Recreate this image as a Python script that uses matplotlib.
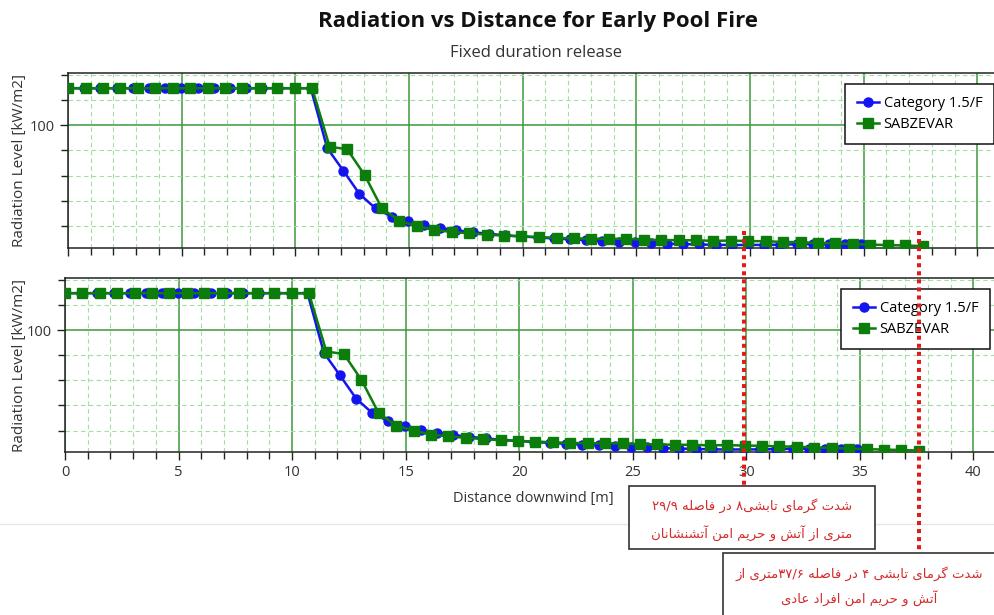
import re
import matplotlib
matplotlib.use("Agg")
import matplotlib.pyplot as plt
from matplotlib import font_manager, transforms
from matplotlib.lines import Line2D
from matplotlib.patches import Rectangle
from matplotlib.ticker import MultipleLocator

# --- data ---
category_x = [0.00, 0.71, 1.42, 2.14, 2.85, 3.56, 4.27, 4.99, 5.70, 6.41,
              7.12, 7.83, 8.55, 9.26, 9.97, 10.68, 11.40, 12.11, 12.82, 13.53,
              14.24, 14.96, 15.67, 16.38, 17.09, 17.81, 18.52, 19.23, 19.94, 20.66,
              21.37, 22.08, 22.79, 23.50, 24.22, 24.93, 25.64, 26.35, 27.06, 27.78,
              28.49, 29.20, 29.91, 30.62, 31.33, 32.05, 32.76, 33.47, 34.18, 34.90]
category_y = [129.5, 129.5, 129.5, 129.5, 129.5, 129.5, 129.5, 129.5, 129.5, 129.5,
              129.5, 129.5, 129.5, 129.5, 129.5, 129.5, 82.0, 64.0, 45.5, 34.0,
              27.5, 24.0, 20.6, 18.4, 16.5, 15.0, 13.8, 12.6, 11.7, 10.9,
              10.1, 9.4, 8.8, 8.2, 7.6, 7.0, 6.5, 6.0, 5.6, 5.3,
              5.0, 4.9, 4.9, 5.0, 5.2, 5.4, 5.6, 5.6, 5.5, 5.3]

sabzevar_x = [0.00, 0.77, 1.53, 2.30, 3.07, 3.84, 4.60, 5.37, 6.14, 6.91,
              7.67, 8.44, 9.21, 9.98, 10.74, 11.51, 12.28, 13.05, 13.81, 14.58,
              15.35, 16.11, 16.88, 17.65, 18.42, 19.18, 19.95, 20.72, 21.49, 22.25,
              23.02, 23.79, 24.56, 25.32, 26.09, 26.86, 27.63, 28.39, 29.16, 29.93,
              30.69, 31.46, 32.23, 33.00, 33.76, 34.53, 35.30, 36.07, 36.83, 37.60]
sabzevar_y = [129.5, 129.5, 129.5, 129.5, 129.5, 129.5, 129.5, 129.5, 129.5, 129.5,
              129.5, 129.5, 129.5, 129.5, 129.5, 83.0, 81.0, 60.5, 34.0, 24.0,
              20.0, 16.8, 15.3, 14.2, 13.2, 12.3, 11.8, 11.2, 10.6, 10.1,
              9.9, 9.8, 9.8, 9.1, 8.9, 8.7, 8.6, 8.2, 8.4, 8.0,
              7.9, 7.3, 7.2, 6.4, 6.3, 5.6, 5.2, 4.8, 4.5, 4.0]

series_labels = ["Category 1.5/F", "SABZEVAR"]
safe_distances = [29.9, 37.6]
note_firefighters = ["شدت گرمای تابشی۸ در فاصله ۲۹/۹",
                     "متری از آتش و حریم امن آتشنشانان"]
note_public = ["شدت گرمای تابشی ۴ در فاصله ۳۷/۶متری از",
               "آتش و حریم امن افراد عادی"]

W, H = 995.0, 615.0

# --- tiny Persian shaper (matplotlib has no arabic shaping / bidi) ---
# forms: isolated, final, initial, medial
FORMS = {
    'ا': (0xFE8D, 0xFE8E, None, None), 'آ': (0xFE81, 0xFE82, None, None),
    'د': (0xFEA9, 0xFEAA, None, None), 'ر': (0xFEAD, 0xFEAE, None, None),
    'ز': (0xFEAF, 0xFEB0, None, None), 'و': (0xFEED, 0xFEEE, None, None),
    'ب': (0xFE8F, 0xFE90, 0xFE91, 0xFE92), 'ت': (0xFE95, 0xFE96, 0xFE97, 0xFE98),
    'ح': (0xFEA1, 0xFEA2, 0xFEA3, 0xFEA4), 'ش': (0xFEB5, 0xFEB6, 0xFEB7, 0xFEB8),
    'ص': (0xFEB9, 0xFEBA, 0xFEBB, 0xFEBC), 'ع': (0xFEC9, 0xFECA, 0xFECB, 0xFECC),
    'ف': (0xFED1, 0xFED2, 0xFED3, 0xFED4), 'ل': (0xFEDD, 0xFEDE, 0xFEDF, 0xFEE0),
    'م': (0xFEE1, 0xFEE2, 0xFEE3, 0xFEE4), 'ن': (0xFEE5, 0xFEE6, 0xFEE7, 0xFEE8),
    'ه': (0xFEE9, 0xFEEA, 0xFEEB, 0xFEEC), 'ی': (0xFBFC, 0xFBFD, 0xFBFE, 0xFBFF),
    'گ': (0xFB92, 0xFB93, 0xFB94, 0xFB95),
}

try:
    from fontTools.ttLib import TTFont
    cmap = TTFont(font_manager.findfont("DejaVu Sans")).getBestCmap()
except Exception:
    cmap = None


def shape_fa(text):
    out = []
    for i, ch in enumerate(text):
        if ch not in FORMS:
            out.append(ch)
            continue
        prev = text[i - 1] if i > 0 else ''
        nxt = text[i + 1] if i + 1 < len(text) else ''
        join_prev = prev in FORMS and FORMS[prev][2] is not None
        join_next = FORMS[ch][2] is not None and nxt in FORMS
        iso, fin, ini, med = FORMS[ch]
        if join_prev and join_next:
            code = med
        elif join_prev:
            code = fin
        elif join_next:
            code = ini
        else:
            code = iso
        if cmap is not None and code not in cmap:
            out.append(ch)
        else:
            out.append(chr(code))
    s = ''.join(out)
    runs = re.findall(r'[۰-۹0-9/]+|[^۰-۹0-9/]+', s)
    vis = []
    for r in reversed(runs):
        if re.match(r'[۰-۹0-9/]', r):
            vis.append(r)
        else:
            vis.append(r[::-1])
    return ''.join(vis)


plt.rcParams['font.family'] = ['Open Sans', 'DejaVu Sans']
plt.rcParams['font.size'] = 10

fig = plt.figure(figsize=(W / 100, H / 100), dpi=100)

ax1 = fig.add_axes([68 / W, 1 - 247.5 / H, 932 / W, 174.5 / H])
ax2 = fig.add_axes([65 / W, 1 - 452 / H, 931 / W, 174 / H])

for ax in (ax1, ax2):
    ax.set_axisbelow(True)
    ax.plot(category_x, category_y, color='#1414f0', marker='o', markersize=6.5,
            linewidth=1.8, label=series_labels[0], zorder=3)
    ax.plot(sabzevar_x, sabzevar_y, color='#0b7d0b', marker='s', markersize=6.5,
            linewidth=1.8, label=series_labels[1], zorder=4)
    ax.set_xlim(0, 41)
    ax.set_ylim(2.9, 141.6)
    ax.xaxis.set_major_locator(MultipleLocator(5))
    ax.xaxis.set_minor_locator(MultipleLocator(1))
    ax.yaxis.set_major_locator(MultipleLocator(100))
    ax.yaxis.set_minor_locator(MultipleLocator(20))
    ax.grid(which='major', color='#3c9a3c', linewidth=1.1, linestyle='-')
    ax.grid(which='minor', color='#a2e0a2', linewidth=0.8, linestyle=(0, (4, 3)))
    ax.tick_params(which='both', direction='out', color='#222222',
                   labelcolor='#333333', labelsize=10.5)
    ax.tick_params(which='major', length=6, width=1)
    ax.tick_params(which='minor', length=5, width=1)
    for side in ('left', 'bottom', 'top'):
        ax.spines[side].set_color('#222222')
        ax.spines[side].set_linewidth(1.1)
    ax.spines['right'].set_visible(False)
    ax.set_ylabel("Radiation Level [kW/m2]", fontsize=11, color='#333333')
    leg = ax.legend(loc='upper right', bbox_to_anchor=(0.9936, 0.937),
                    borderaxespad=0, fancybox=False, framealpha=1,
                    edgecolor='#111111', fontsize=10.5, handlelength=1.5,
                    handletextpad=0.35, borderpad=0.8, labelspacing=0.45)
    leg.get_frame().set_linewidth(1.1)

ax1.yaxis.set_label_coords(-0.044, 0.5)
ax2.yaxis.set_label_coords(-0.041, 0.5)
ax1.tick_params(labelbottom=False)
ax2.set_xlabel("Distance downwind [m]", fontsize=10.5, color='#333333')
ax2.xaxis.set_label_coords(0.503, -0.225)

fig.text(538 / W, 1 - 22 / H, "Radiation vs Distance for Early Pool Fire",
         ha='center', va='center', fontsize=16, fontweight='bold', color='#111111')
fig.text(536 / W, 1 - 53 / H, "Fixed duration release",
         ha='center', va='center', fontsize=12, color='#333333')

# faint window edge line
fig.add_artist(Line2D([0, 1], [1 - 524 / H, 1 - 524 / H], transform=fig.transFigure,
                      color='#e8e8e8', linewidth=1, zorder=1))

# red dotted markers at the safe distances
trans = transforms.blended_transform_factory(ax2.transData, fig.transFigure)
ends = [486, 553]
for d, y_end in zip(safe_distances, ends):
    fig.add_artist(Line2D([d, d], [1 - 231 / H, 1 - y_end / H], transform=trans,
                          color='#e31a1a', linewidth=2.9, linestyle=(0, (1, 1)),
                          dash_capstyle='butt', zorder=20))

# annotation boxes
fig.add_artist(Rectangle((629 / W, 1 - 549 / H), 246 / W, 63 / H, transform=fig.transFigure,
                         facecolor='white', edgecolor='#333333', linewidth=1.2, zorder=10))
fig.add_artist(Rectangle((723 / W, 1 - 625 / H), 300 / W, 72 / H, transform=fig.transFigure,
                         facecolor='white', edgecolor='#333333', linewidth=1.2, zorder=10))

for line, y in zip(note_firefighters, [506, 533]):
    fig.text(752 / W, 1 - y / H, shape_fa(line), ha='center', va='center',
             fontsize=9.5, color='#d42a2a', family=['DejaVu Sans'], zorder=11)
for line, y in zip(note_public, [574, 598]):
    fig.text(859 / W, 1 - y / H, shape_fa(line), ha='center', va='center',
             fontsize=9.5, color='#d42a2a', family=['DejaVu Sans'], zorder=11)

fig.savefig("out.png", dpi=100)
